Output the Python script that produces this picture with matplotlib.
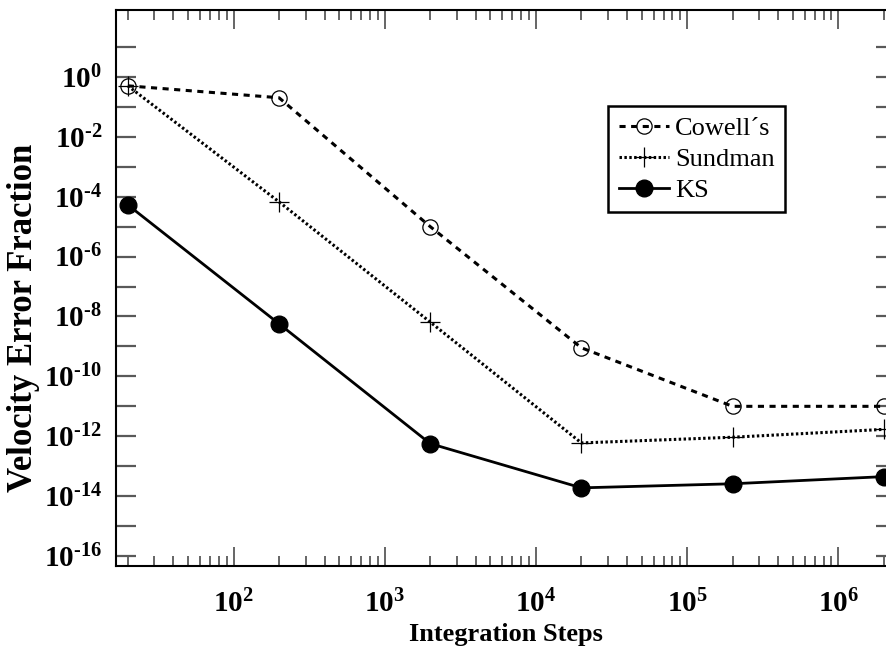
import numpy as np
import matplotlib
matplotlib.use("Agg")
import matplotlib.pyplot as plt
from matplotlib.ticker import FixedLocator, FuncFormatter, LogLocator, NullLocator

# ── Data ──────────────────────────────────────────────────────────────────────
steps   = [20, 200, 2000, 20000, 200000, 2000000]
cowell  = [0.5, 0.2, 1.0e-5, 9.0e-10, 1.0e-11, 1.0e-11]
sundman = [0.5, 6.7e-5, 6.5e-9, 6.0e-13, 9.3e-13, 1.7e-12]
ks      = [5.3e-5, 5.7e-9, 5.7e-13, 1.9e-14, 2.6e-14, 4.5e-14]

y_decades = list(range(-16, 2))        # y ticks at every decade
x_decades = [2, 3, 4, 5, 6]

# ── Fonts: bold Times-like look ───────────────────────────────────────────────
plt.rcParams['font.family'] = ['Liberation Serif', 'DejaVu Serif']
plt.rcParams['mathtext.fontset'] = 'custom'
plt.rcParams['mathtext.rm'] = 'Liberation Serif:bold'
plt.rcParams['mathtext.bf'] = 'Liberation Serif:bold'
plt.rcParams['mathtext.it'] = 'Liberation Serif:italic'

fig = plt.figure(figsize=(8.87, 6.48), dpi=100)
ax = fig.add_axes([116/887, 82/648, 780/887, 556/648])

ax.plot(steps, cowell, color='black', linestyle=(0, (2.0, 1.8)), linewidth=2.2,
        marker='o', markersize=11, markerfacecolor='none',
        markeredgewidth=0.9, label='Cowell\u00b4s')
ax.plot(steps, sundman, color='black', linestyle=(0, (0.8, 0.8)), linewidth=2.2,
        marker='+', markersize=14, markeredgewidth=0.9, label='Sundman')
ax.plot(steps, ks, color='black', linestyle='-', linewidth=2.0,
        marker='o', markersize=12, markerfacecolor='black', label='KS')

ax.set_xscale('log')
ax.set_yscale('log')
ax.set_xlim(16.7, 2.41e6)
ax.set_ylim(10**-16.33, 10**2.23)


def pow_label(e):
    # hyphen instead of the wide math minus, as in the original figure
    if e < 0:
        return r'$10^{\text{-}%d}$' % -e
    return r'$10^{%d}$' % e


# ticks
ax.xaxis.set_major_locator(FixedLocator([10.0**e for e in x_decades]))
ax.xaxis.set_minor_locator(LogLocator(base=10, subs=np.arange(2, 10), numticks=20))
ax.xaxis.set_major_formatter(FuncFormatter(
    lambda v, p: pow_label(int(round(np.log10(v))))))
ax.xaxis.set_minor_formatter(FuncFormatter(lambda v, p: ''))

ax.yaxis.set_major_locator(FixedLocator([10.0**e for e in y_decades]))
ax.yaxis.set_minor_locator(NullLocator())


def ylab(v, p):
    e = int(round(np.log10(v)))
    return pow_label(e) if e % 2 == 0 else ''


ax.yaxis.set_major_formatter(FuncFormatter(ylab))

ax.tick_params(which='both', direction='in', top=True, right=True,
               color='0.35', labelsize=21)
ax.tick_params(axis='x', which='major', length=14, width=1.3, pad=17)
ax.tick_params(axis='x', which='minor', length=7, width=1.3)
ax.tick_params(axis='y', which='major', length=14.5, width=1.6, pad=10)

for s in ax.spines.values():
    s.set_linewidth(1.5)

ax.set_xlabel('Integration Steps', fontsize=19, fontweight='bold', va='center')
ax.xaxis.set_label_coords(0.5, (566 - 634) / 556)
ax.set_ylabel('Velocity Error Fraction', fontsize=25, fontweight='bold', va='center')
ax.yaxis.set_label_coords((24 - 116) / 780, (566 - 318) / 556)

leg = ax.legend(loc='upper left', bbox_to_anchor=(608/887, 1 - 106/648),
                bbox_transform=fig.transFigure, borderaxespad=0,
                fontsize=19, handlelength=1.9, handletextpad=0.25,
                labelspacing=0.28, borderpad=0.4, numpoints=1,
                fancybox=False, framealpha=1, edgecolor='black')
leg.get_frame().set_linewidth(1.8)

plt.savefig("out.png", dpi=100)
